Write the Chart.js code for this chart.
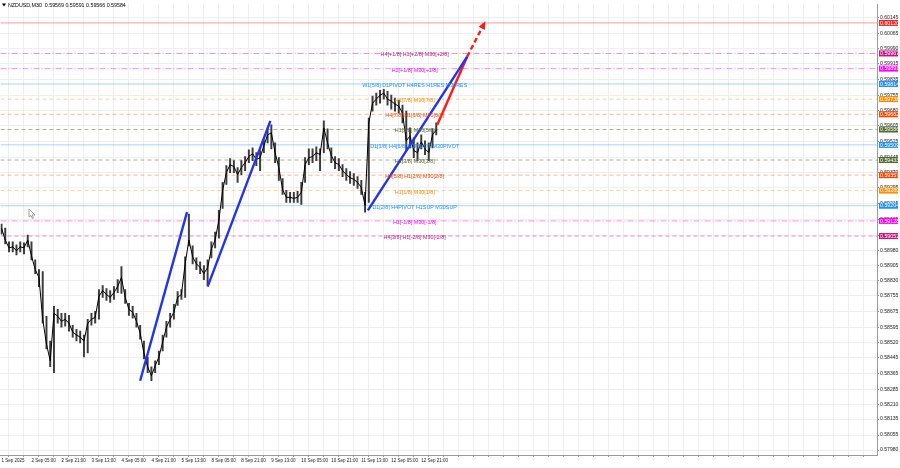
<!DOCTYPE html>
<html>
<head>
<meta charset="utf-8">
<script src="https://cdn.jsdelivr.net/npm/chart.js@4.4.1/dist/chart.umd.min.js"></script>
<style>
  html, body { margin: 0; padding: 0; background: #fff; }
  #wrap { width: 900px; height: 468px; position: relative; }
</style>
</head>
<body>
<div id="wrap"><canvas id="chart" width="900" height="468"></canvas></div>
<script>
// NZDUSD M30 - one sample every 4 bars, first bar 1 Sep 2025 13:00
const sampleStep = 4;
const highs = [0.59112, 0.59092, 0.59023, 0.59023, 0.59008, 0.59023, 0.59018, 0.59057, 0.59023, 0.58933,
  0.58884, 0.58874, 0.58650, 0.58526, 0.58700, 0.58685, 0.58665, 0.58665, 0.58655, 0.58605,
  0.58585, 0.58576, 0.58556, 0.58635, 0.58665, 0.58675, 0.58784, 0.58804, 0.58789, 0.58779,
  0.58799, 0.58834, 0.58899, 0.58784, 0.58715, 0.58700, 0.58665, 0.58605, 0.58526, 0.58446,
  0.58397, 0.58427, 0.58476, 0.58556, 0.58625, 0.58665, 0.58710, 0.58774, 0.58784, 0.58948,
  0.59162, 0.59003, 0.58943, 0.58923, 0.58904, 0.58933, 0.59023, 0.59072, 0.59181, 0.59321,
  0.59405, 0.59440, 0.59430, 0.59395, 0.59430, 0.59450, 0.59484, 0.59494, 0.59470, 0.59480,
  0.59534, 0.59589, 0.59609, 0.59519, 0.59445, 0.59340, 0.59281, 0.59271, 0.59271, 0.59276,
  0.59321, 0.59445, 0.59489, 0.59489, 0.59499, 0.59489, 0.59629, 0.59589, 0.59494, 0.59450,
  0.59440, 0.59410, 0.59390, 0.59375, 0.59365, 0.59350, 0.59331, 0.59271, 0.59643, 0.59753,
  0.59768, 0.59782, 0.59787, 0.59777, 0.59758, 0.59743, 0.59733, 0.59708, 0.59678, 0.59594,
  0.59544, 0.59519, 0.59559, 0.59529, 0.59519, 0.59589, 0.59619];
const lows = [0.59062, 0.59013, 0.58973, 0.58973, 0.58958, 0.58973, 0.58963, 0.58998, 0.58933, 0.58864,
  0.58799, 0.58615, 0.58486, 0.58397, 0.58367, 0.58615, 0.58595, 0.58600, 0.58576, 0.58546,
  0.58526, 0.58516, 0.58446, 0.58466, 0.58605, 0.58615, 0.58635, 0.58745, 0.58730, 0.58720,
  0.58735, 0.58769, 0.58764, 0.58715, 0.58655, 0.58640, 0.58595, 0.58536, 0.58436, 0.58367,
  0.58327, 0.58367, 0.58407, 0.58476, 0.58546, 0.58595, 0.58635, 0.58705, 0.58735, 0.58745,
  0.59003, 0.58913, 0.58884, 0.58864, 0.58834, 0.58804, 0.58943, 0.58993, 0.59042, 0.59191,
  0.59311, 0.59370, 0.59370, 0.59321, 0.59360, 0.59380, 0.59420, 0.59430, 0.59405, 0.59380,
  0.59470, 0.59519, 0.59489, 0.59420, 0.59331, 0.59261, 0.59221, 0.59221, 0.59221, 0.59221,
  0.59211, 0.59321, 0.59410, 0.59420, 0.59430, 0.59380, 0.59470, 0.59489, 0.59420, 0.59390,
  0.59380, 0.59350, 0.59331, 0.59316, 0.59306, 0.59291, 0.59261, 0.59172, 0.59221, 0.59678,
  0.59708, 0.59718, 0.59738, 0.59708, 0.59688, 0.59678, 0.59668, 0.59619, 0.59480, 0.59494,
  0.59445, 0.59430, 0.59489, 0.59460, 0.59430, 0.59494, 0.59559];
const closes = [0.59092, 0.59032, 0.58993, 0.58998, 0.58978, 0.58998, 0.58993, 0.59032, 0.58953, 0.58884,
  0.58844, 0.58635, 0.58511, 0.58427, 0.58665, 0.58650, 0.58625, 0.58635, 0.58615, 0.58571,
  0.58556, 0.58546, 0.58526, 0.58615, 0.58635, 0.58645, 0.58750, 0.58779, 0.58759, 0.58745,
  0.58769, 0.58799, 0.58844, 0.58745, 0.58685, 0.58670, 0.58625, 0.58566, 0.58466, 0.58397,
  0.58352, 0.58402, 0.58446, 0.58521, 0.58595, 0.58635, 0.58670, 0.58745, 0.58759, 0.58913,
  0.59032, 0.58948, 0.58913, 0.58894, 0.58864, 0.58894, 0.58988, 0.59032, 0.59132, 0.59281,
  0.59370, 0.59410, 0.59400, 0.59360, 0.59395, 0.59420, 0.59450, 0.59465, 0.59435, 0.59445,
  0.59504, 0.59559, 0.59569, 0.59470, 0.59395, 0.59286, 0.59246, 0.59246, 0.59241, 0.59246,
  0.59271, 0.59410, 0.59445, 0.59450, 0.59470, 0.59460, 0.59594, 0.59519, 0.59455, 0.59420,
  0.59410, 0.59380, 0.59360, 0.59345, 0.59336, 0.59321, 0.59296, 0.59206, 0.59619, 0.59718,
  0.59738, 0.59758, 0.59768, 0.59738, 0.59728, 0.59713, 0.59703, 0.59668, 0.59529, 0.59554,
  0.59480, 0.59470, 0.59524, 0.59489, 0.59470, 0.59559, 0.59584];

const timeLabels = ['1 Sep 2025', '2 Sep 05:00', '2 Sep 21:00', '3 Sep 13:00', '4 Sep 05:00',
  '4 Sep 21:00', '5 Sep 13:00', '8 Sep 05:00', '8 Sep 21:00', '9 Sep 13:00', '10 Sep 05:00',
  '10 Sep 21:00', '11 Sep 13:00', '12 Sep 05:00', '12 Sep 21:00'];
const barsPerLabel = 32;
const barsPerGrid = 16;

const priceTicks = [0.60145, 0.60065, 0.59990, 0.59915, 0.59835, 0.59755, 0.59680, 0.59605,
  0.59525, 0.59445, 0.59370, 0.59295, 0.59215, 0.59135, 0.59055, 0.58980, 0.58905, 0.58830,
  0.58755, 0.58675, 0.58595, 0.58520, 0.58445, 0.58365, 0.58285, 0.58210, 0.58135, 0.58055, 0.57980];

// murrey / pivot levels
const levels = [0.60120, 0.59967, 0.59891, 0.59814, 0.59738, 0.59662, 0.59586, 0.59509,
  0.59433, 0.59357, 0.59280, 0.59204, 0.59128, 0.59052];
const levelTags = ['', 'H4[+1/8] H1[+2/8] M30[+2/8]', 'H1[+1/8] M30[+1/8]',
  'W1[5/8] D1PIVOT H4RES H1RES M30RES', 'H1[7/8] M30[7/8]', 'H4[7/8] H1[6/8] M30[6/8]',
  'H1[5/8] M30[5/8]', 'D1[3/8] H4[6/8] H1PIVOT M30PIVOT', 'H1[3/8] M30[3/8]',
  'H4[5/8] H1[2/8] M30[2/8]', 'H1[1/8] M30[1/8]', 'D1[2/8] H4PIVOT H1SUP M30SUP',
  'H1[-1/8] M30[-1/8]', 'H4[3/8] H1[-2/8] M30[-2/8]'];
const levelColors = ['#f02828', '#c71585', '#ff00ff', '#1e90ff', '#ff8c00', '#ff4500', '#556b2f',
  '#1e90ff', '#556b2f', '#ff4500', '#ff8c00', '#1e90ff', '#ff00ff', '#c71585'];
const levelLineColors = ['rgba(240,40,40,0.45)', 'rgba(214,60,160,0.55)', 'rgba(255,0,255,0.45)',
  'rgba(30,144,255,0.4)', 'rgba(255,140,0,0.4)', 'rgba(255,69,0,0.4)', 'rgba(85,107,47,0.5)',
  'rgba(30,144,255,0.4)', 'rgba(85,107,47,0.5)', 'rgba(255,69,0,0.4)', 'rgba(255,140,0,0.4)',
  'rgba(30,144,255,0.4)', 'rgba(255,0,255,0.45)', 'rgba(214,60,160,0.55)'];
const levelDash = ['solid', 'dashdot', 'dashdot', 'solid', 'dash', 'dash', 'dash',
  'solid', 'dash', 'dash', 'dash', 'solid', 'dashdot', 'dash'];
const tagBar = 441;

// trend legs (bar index, price)
const blueLeg1 = [{ x: 148, y: 0.58327 }, { x: 198, y: 0.59172 }];
const blueLeg2 = [{ x: 220, y: 0.58799 }, { x: 287, y: 0.59629 }];
const blueLeg3 = [{ x: 391, y: 0.59181 }, { x: 497, y: 0.59951 }];
const redLeg = [{ x: 465, y: 0.59609 }, { x: 497, y: 0.59951 }];
const redProjection = [{ x: 497, y: 0.59951 }, { x: 515, y: 0.60115 }];

const quote = ['NZDUSD,M30', '0.59569', '0.59591', '0.59566', '0.59584'];

const X_MIN = -1.07;
const X_MAX = 934.4;
const FONT = '"Liberation Sans", Arial, sans-serif';

const dashMap = { solid: [], dash: [4, 3], dashdot: [6, 2, 1, 2] };

const levelSets = levels.map((lv, i) => ({
  type: 'line',
  data: [{ x: X_MIN, y: lv }, { x: X_MAX, y: lv }],
  borderColor: levelLineColors[i],
  borderWidth: 1,
  borderDash: dashMap[levelDash[i]],
  pointRadius: 0,
  order: 20,
}));

function legSet(pts, color, dash) {
  return {
    type: 'line',
    data: pts,
    borderColor: color,
    borderWidth: 2.4,
    borderDash: dash || [],
    pointRadius: 0,
    order: 1,
  };
}

const overlay = {
  id: 'overlay',
  afterDatasetsDraw(chart) {
    const ctx = chart.ctx;
    const xs = chart.scales.x;
    const ys = chart.scales.y;
    const area = chart.chartArea;
    ctx.save();
    // level tags in the chart
    ctx.font = '5.4px ' + FONT;
    ctx.textAlign = 'center';
    ctx.textBaseline = 'middle';
    levels.forEach((lv, i) => {
      if (!levelTags[i]) return;
      ctx.fillStyle = levelColors[i];
      ctx.fillText(levelTags[i], xs.getPixelForValue(tagBar), ys.getPixelForValue(lv) + 1.5);
    });
    // arrow head on projection
    const p0 = { x: xs.getPixelForValue(redProjection[0].x), y: ys.getPixelForValue(redProjection[0].y) };
    const p1 = { x: xs.getPixelForValue(redProjection[1].x), y: ys.getPixelForValue(redProjection[1].y) };
    const ang = Math.atan2(p1.y - p0.y, p1.x - p0.x);
    ctx.fillStyle = '#ff1a1a';
    ctx.beginPath();
    ctx.moveTo(p1.x + 3 * Math.cos(ang), p1.y + 3 * Math.sin(ang));
    ctx.lineTo(p1.x - 5 * Math.cos(ang) + 3.5 * Math.sin(ang), p1.y - 5 * Math.sin(ang) - 3.5 * Math.cos(ang));
    ctx.lineTo(p1.x - 5 * Math.cos(ang) - 3.5 * Math.sin(ang), p1.y - 5 * Math.sin(ang) + 3.5 * Math.cos(ang));
    ctx.closePath();
    ctx.fill();
    // title
    ctx.fillStyle = '#000';
    ctx.beginPath();
    ctx.moveTo(2, 3.5); ctx.lineTo(6, 3.5); ctx.lineTo(4, 6.5); ctx.closePath();
    ctx.fill();
    ctx.font = '5.3px ' + FONT;
    ctx.textAlign = 'left';
    ctx.fillText(quote[0] + '  ' + quote.slice(1).join(' '), 8, 5.5);
    // mouse cursor
    ctx.strokeStyle = '#8a8a8a';
    ctx.fillStyle = '#fff';
    ctx.lineWidth = 0.8;
    ctx.beginPath();
    ctx.moveTo(29, 209); ctx.lineTo(29, 217); ctx.lineTo(31, 215.5); ctx.lineTo(32.5, 218.5);
    ctx.lineTo(33.5, 218); ctx.lineTo(32.2, 215); ctx.lineTo(35, 215); ctx.closePath();
    ctx.fill(); ctx.stroke();
    // price boxes on the axis
    ctx.font = '5.3px ' + FONT;
    ctx.textAlign = 'left';
    levels.forEach((lv, i) => {
      const y = ys.getPixelForValue(lv);
      ctx.fillStyle = levelColors[i];
      ctx.fillRect(area.right + 2, y - 3, 19, 6);
      ctx.fillStyle = '#fff';
      ctx.fillText(lv.toFixed(5), area.right + 3, y + 0.3);
    });
    ctx.restore();
  },
};

new Chart(document.getElementById('chart'), {
  type: 'bar',
  data: {
    datasets: [
      {
        type: 'bar',
        data: closes.map((c, k) => ({ x: k * sampleStep, y: [lows[k], highs[k]] })),
        backgroundColor: '#3c3c3c',
        barThickness: 1.3,
        order: 5,
      },
      {
        type: 'line',
        data: closes.map((c, k) => ({ x: k * sampleStep, y: c })),
        borderColor: '#000',
        borderWidth: 1,
        pointRadius: 0,
        fill: false,
        order: 4,
      },
      ...levelSets,
      legSet(blueLeg1, '#2233ee'),
      legSet(blueLeg2, '#2233ee'),
      legSet(blueLeg3, '#2233ee'),
      legSet(redLeg, '#ff1a1a'),
      legSet(redProjection, '#ff1a1a', [5, 3]),
    ],
  },
  options: {
    responsive: false,
    animation: false,
    devicePixelRatio: 1,
    layout: { padding: { top: 0, left: 0, right: 0, bottom: 0 } },
    plugins: { legend: { display: false }, tooltip: { enabled: false } },
    scales: {
      x: {
        type: 'linear',
        min: X_MIN,
        max: X_MAX,
        offset: false,
        afterBuildTicks(scale) {
          const t = [];
          for (let b = 0; b <= 928; b += barsPerGrid) t.push({ value: b });
          scale.ticks = t;
        },
        afterFit(scale) { scale.height = 13; },
        grid: { color: '#efefef', lineWidth: 1, tickLength: 2, tickColor: '#9a9a9a' },
        border: { display: true, color: '#9a9a9a' },
        ticks: {
          autoSkip: false,
          maxRotation: 0,
          align: 'start',
          padding: 1.5,
          color: '#222',
          font: { size: 4.5, family: FONT },
          callback(v) {
            if (v % barsPerLabel !== 0) return '';
            return timeLabels[v / barsPerLabel] || '';
          },
        },
      },
      y: {
        position: 'right',
        min: 0.57955,
        max: 0.602145,
        afterBuildTicks(scale) {
          scale.ticks = priceTicks.map((v) => ({ value: v }));
        },
        afterFit(scale) { scale.width = 23; },
        grid: { color: '#efefef', lineWidth: 1, tickLength: 2, tickColor: '#9a9a9a' },
        border: { display: true, color: '#9a9a9a' },
        ticks: {
          padding: 1,
          color: '#222',
          font: { size: 5.1, family: FONT },
          callback(v) { return Number(v).toFixed(5); },
        },
      },
    },
  },
  plugins: [overlay],
});
</script>
</body>
</html>
